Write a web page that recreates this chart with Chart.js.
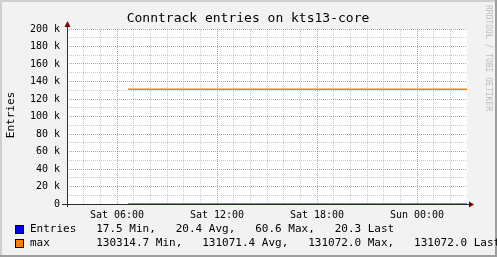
<!DOCTYPE html>
<html>
<head>
<meta charset="utf-8">
<script src="https://cdn.jsdelivr.net/npm/chart.js@4/dist/chart.umd.min.js"></script>
<style>
html,body{margin:0;padding:0;background:#F2F2F2;}
canvas{display:block;}
</style>
</head>
<body>
<canvas id="c" width="497" height="257"></canvas>
<script>
// ---- data (hours since Sat 03:00) ----
const hours = [3.66, 4, 5, 6, 7, 8, 9, 10, 11, 12, 13, 14, 15, 16, 17, 18, 19, 20, 21, 22, 23, 24];
const entriesValues = [20.1, 19.8, 20.5, 21.0, 18.9, 17.5, 20.2, 60.6, 22.4, 20.0, 19.6, 20.3, 19.9, 20.7, 21.2, 19.4, 20.1, 20.6, 19.7, 20.0, 20.4, 20.3];
const maxValues = [131072, 131072, 131072, 131072, 131072, 131072, 131072, 131072, 131072, 131072, 131072, 131072, 131072, 131072, 131072, 131072, 131072, 131072, 131072, 131072, 131072, 131072];
const xTickHours = [3, 9, 15, 21];
const xTickLabels = ['Sat 06:00', 'Sat 12:00', 'Sat 18:00', 'Sun 00:00'];
const seriesNames = ['Entries', 'max'];
const entriesStats = [17.5, 20.4, 60.6, 20.3];   // Min, Avg, Max, Last
const maxStats = [130314.7, 131071.4, 131072.0, 131072.0];
const titleText = 'Conntrack entries on kts13-core';
const yAxisTitle = 'Entries';
const watermark = 'RRDTOOL / TOBI OETIKER';

const MONO = '"DejaVu Sans Mono", monospace';
const BLUE = '#0000FF';
const ORANGE = '#FF7F00';
const MINOR = 'rgba(143,143,143,0.45)';
const MAJOR = 'rgba(222,26,26,0.5)';

function fmtK(v) {
  if (v === 0) return '0';
  return (v / 1000) + ' k';
}

const decor = {
  id: 'decor',
  beforeDraw(chart) {
    const ctx = chart.ctx, W = chart.width, H = chart.height, a = chart.chartArea;
    ctx.save();
    ctx.fillStyle = '#F2F2F2';
    ctx.fillRect(0, 0, W, H);
    ctx.fillStyle = '#CFCFCF';
    ctx.fillRect(0, 0, W, 2);
    ctx.fillRect(0, 0, 2, H);
    ctx.fillStyle = '#9E9E9E';
    ctx.fillRect(0, H - 2, W, 2);
    ctx.fillRect(W - 2, 0, 2, H);
    ctx.fillStyle = '#FFFFFF';
    ctx.fillRect(a.left, a.top, a.right - a.left, a.bottom - a.top);
    ctx.restore();
  },
  beforeDatasetsDraw(chart) {
    const ctx = chart.ctx, a = chart.chartArea;
    ctx.save();
    ctx.strokeStyle = '#2C2C2C';
    ctx.lineWidth = 1;
    ctx.beginPath();
    ctx.moveTo(a.left - 5, a.bottom + 0.5);
    ctx.lineTo(a.right + 3, a.bottom + 0.5);
    ctx.moveTo(a.left + 0.5, a.bottom + 3);
    ctx.lineTo(a.left + 0.5, a.top - 3);
    ctx.stroke();
    ctx.fillStyle = '#7F0000';
    ctx.beginPath();
    ctx.moveTo(a.right + 2, a.bottom - 2.5);
    ctx.lineTo(a.right + 7, a.bottom + 0.5);
    ctx.lineTo(a.right + 2, a.bottom + 3.5);
    ctx.closePath();
    ctx.fill();
    ctx.beginPath();
    ctx.moveTo(a.left - 2.5, a.top - 2);
    ctx.lineTo(a.left + 0.5, a.top - 8);
    ctx.lineTo(a.left + 3.5, a.top - 2);
    ctx.closePath();
    ctx.fill();
    ctx.restore();
  },
  afterDraw(chart) {
    const ctx = chart.ctx;
    ctx.save();
    ctx.fillStyle = '#000';
    ctx.font = '13px ' + MONO;
    ctx.textAlign = 'center';
    ctx.textBaseline = 'middle';
    ctx.fillText(titleText, 248, 19);
    ctx.save();
    ctx.translate(11, 115);
    ctx.rotate(-Math.PI / 2);
    ctx.font = '11px ' + MONO;
    ctx.fillText(yAxisTitle, 0, 0);
    ctx.restore();
    ctx.save();
    ctx.translate(488, 5);
    ctx.rotate(Math.PI / 2);
    ctx.font = '8px ' + MONO;
    ctx.fillStyle = '#BDBDBD';
    ctx.textAlign = 'left';
    ctx.fillText(watermark, 0, 0);
    ctx.restore();
    const rows = [
      [seriesNames[0], entriesStats, BLUE, 229],
      [seriesNames[1], maxStats, ORANGE, 243]
    ];
    ctx.font = '11px ' + MONO;
    ctx.textAlign = 'left';
    ctx.textBaseline = 'middle';
    rows.forEach(([name, st, col, y]) => {
      ctx.fillStyle = col;
      ctx.fillRect(15, y - 4, 9, 9);
      ctx.strokeStyle = '#000';
      ctx.lineWidth = 1;
      ctx.strokeRect(15.5, y - 3.5, 8, 8);
      ctx.fillStyle = '#000';
      const s = name.padEnd(10, ' ') +
        st[0].toFixed(1) + ' Min,   ' +
        st[1].toFixed(1) + ' Avg,   ' +
        st[2].toFixed(1) + ' Max,   ' +
        st[3].toFixed(1) + ' Last';
      ctx.fillText(s, 30, y);
    });
    ctx.restore();
  }
};

new Chart(document.getElementById('c'), {
  type: 'line',
  data: {
    datasets: [
      {
        label: seriesNames[0],
        data: hours.map((h, i) => ({ x: h, y: entriesValues[i] })),
        borderColor: BLUE,
        borderWidth: 1,
        pointRadius: 0,
        tension: 0,
        fill: false,
        order: 1
      },
      {
        label: seriesNames[1],
        data: hours.map((h, i) => ({ x: h, y: maxValues[i] })),
        borderColor: ORANGE,
        borderWidth: 1.5,
        pointRadius: 0,
        tension: 0,
        fill: false,
        order: 2
      }
    ]
  },
  options: {
    responsive: false,
    animation: false,
    devicePixelRatio: 1,
    layout: { padding: { left: 0, top: 29, right: 30, bottom: 0 } },
    plugins: { legend: { display: false }, title: { display: false }, tooltip: { enabled: false } },
    scales: {
      x: {
        type: 'linear',
        min: 0,
        max: 24,
        afterFit(s) { s.height = 53; },
        border: { display: false, dash: [1, 1] },
        grid: {
          drawTicks: false,
          lineWidth: 1,
          color(c) {
            const v = c.tick.value;
            if (v <= 0 || v >= 24) return 'rgba(0,0,0,0)';
            return xTickHours.includes(v) ? MAJOR : MINOR;
          }
        },
        ticks: {
          stepSize: 1,
          autoSkip: false,
          maxRotation: 0,
          padding: 5,
          color: '#000',
          font: { family: MONO, size: 10 },
          callback(v) {
            const k = xTickHours.indexOf(v);
            return k >= 0 ? xTickLabels[k] : '';
          }
        }
      },
      y: {
        min: 0,
        max: 200000,
        afterFit(s) { s.width = 67; },
        border: { display: false, dash: [1, 1] },
        grid: {
          drawTicks: false,
          lineWidth: 1,
          color(c) {
            const v = c.tick.value;
            if (v <= 0) return 'rgba(0,0,0,0)';
            return v % 20000 === 0 ? MAJOR : MINOR;
          }
        },
        ticks: {
          stepSize: 10000,
          autoSkip: false,
          padding: 7,
          color: '#000',
          font: { family: MONO, size: 10 },
          callback(v) { return v % 20000 === 0 ? fmtK(v) : ''; }
        }
      }
    }
  },
  plugins: [decor]
});
</script>
</body>
</html>
